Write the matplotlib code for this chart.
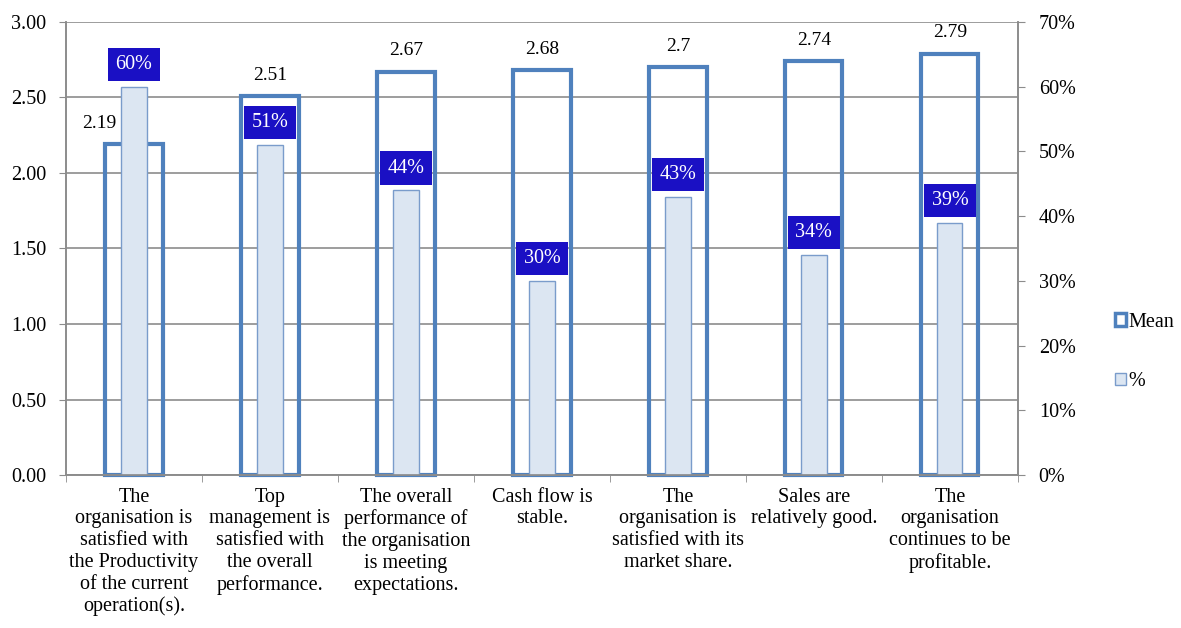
import numpy as np
import matplotlib
matplotlib.use("Agg")
import matplotlib.pyplot as plt
from matplotlib.patches import Patch

plt.rcParams["font.family"] = ["Liberation Serif", "DejaVu Serif"]

categories = [
    "The\norganisation is\nsatisfied with\nthe Productivity\nof the current\noperation(s).",
    "Top\nmanagement is\nsatisfied with\nthe overall\nperformance.",
    "The overall\nperformance of\nthe organisation\nis meeting\nexpectations.",
    "Cash flow is\nstable.",
    "The\norganisation is\nsatisfied with its\nmarket share.",
    "Sales are\nrelatively good.",
    "The\norganisation\ncontinues to be\nprofitable.",
]
mean_values = [2.19, 2.51, 2.67, 2.68, 2.70, 2.74, 2.79]
mean_labels = ["2.19", "2.51", "2.67", "2.68", "2.7", "2.74", "2.79"]
pct_values = [60, 51, 44, 30, 43, 34, 39]

edge_blue = "#4F81BD"
fill_light = "#DCE6F2"
label_box = "#1A10C4"
grid_grey = "#8C8C8C"

fig = plt.figure(figsize=(11.81, 6.28), dpi=100)
ax = fig.add_axes([0.0559, 0.2436, 0.806, 0.7214])
ax2 = ax.twinx()

x = np.arange(len(categories))

ax.set_axisbelow(True)
ax.yaxis.grid(True, color=grid_grey, linewidth=1.2)
bars = ax.bar(x, mean_values, width=0.42, facecolor="none",
              edgecolor=edge_blue, linewidth=3.0, zorder=2)
for b in bars:
    b.set_clip_on(False)

pbars = ax2.bar(x, pct_values, width=0.185, facecolor=fill_light,
                edgecolor="#7A9CCB", linewidth=1.0, zorder=2)
for xi, v in zip(x, pct_values):
    ax2.annotate(f"{v}%", (xi, v), xytext=(0, 16), textcoords="offset points",
                 ha="center", va="center", fontsize=14.5, color="white",
                 bbox=dict(boxstyle="square,pad=0.36", fc=label_box, ec="none"))

# mean labels go on the top axes so the % bars don't hide them;
# when the % bar is taller than the mean bar the label moves to the left
for xi, v, p, lab in zip(x, mean_values, pct_values, mean_labels):
    dx = -25 if p / 70 * 3 > v else 0
    ax2.annotate(lab, (xi, v / 3 * 70), xytext=(dx, 15), textcoords="offset points",
                 ha="center", va="center", fontsize=14)

ax.set_xlim(-0.5, len(categories) - 0.5)
ax.set_ylim(0, 3)
ax.set_yticks(np.arange(0, 3.01, 0.5))
ax.set_yticklabels([f"{t:.2f}" for t in np.arange(0, 3.01, 0.5)], fontsize=14.5)
ax2.set_ylim(0, 70)
ax2.set_yticks(np.arange(0, 71, 10))
ax2.set_yticklabels([f"{t}%" for t in range(0, 71, 10)], fontsize=14.5)

ax.set_xticks(x)
ax.set_xticklabels(categories, fontsize=14.5, linespacing=1.2)
ax.set_xticks(np.arange(-0.5, len(categories), 1), minor=True)
ax.tick_params(axis="x", which="major", length=0, pad=9)
ax.tick_params(axis="x", which="minor", length=5, color=grid_grey)
ax.tick_params(axis="y", length=5, color=grid_grey, pad=9)
ax2.tick_params(axis="y", length=5, color=grid_grey, pad=10)

for a in (ax, ax2):
    a.spines["top"].set_visible(False)
    for s in ("left", "right", "bottom"):
        a.spines[s].set_color(grid_grey)
        a.spines[s].set_linewidth(1.2)

handles = [
    Patch(facecolor="white", edgecolor=edge_blue, linewidth=2.5, label="Mean"),
    Patch(facecolor=fill_light, edgecolor="#7A9CCB", linewidth=1.0, label="%"),
]
fig.legend(handles=handles, loc="upper left", bbox_to_anchor=(0.937, 0.515),
           frameon=False, fontsize=14.5, handlelength=0.55, handleheight=0.55,
           handletextpad=0.15, labelspacing=2.0, borderaxespad=0)

fig.savefig("out.png", dpi=100)
